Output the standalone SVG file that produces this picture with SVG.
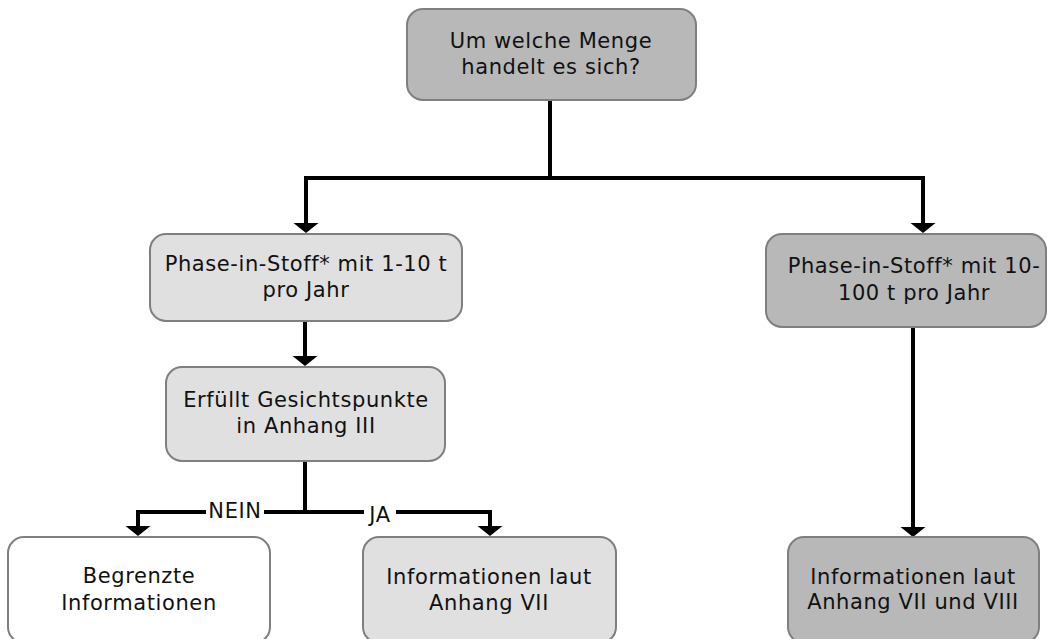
<svg xmlns="http://www.w3.org/2000/svg" width="1048" height="639" viewBox="0 0 1048 639">
  <defs>
    <marker id="arrow" markerUnits="userSpaceOnUse" viewBox="0 -13 10 26" markerWidth="10" markerHeight="26" refX="0" refY="0" orient="auto">
      <path d="M0,-12.5 L10,0 L0,12.5 Z" fill="#000"/>
    </marker>
    <style>
      .box { stroke: #7f7f7f; stroke-width: 2; }
      .dark { fill: #b8b8b8; }
      .light { fill: #e0e0e0; }
      .white { fill: #ffffff; }
      .label { font-family: "DejaVu Sans", Verdana, sans-serif; font-size: 21px; letter-spacing: 0.6px; fill: #111; text-anchor: middle; }
      .wire { fill: none; stroke: #000; stroke-width: 4; stroke-linejoin: miter; }
      .tag-bg { fill: #ffffff; }
    </style>
  </defs>
  <rect width="1048" height="639" fill="#ffffff"/>

  <!-- connectors -->
  <g id="connectors">
    <path class="wire" d="M550,100 V178"/>
    <path class="wire" d="M552,178 H306 V223" marker-end="url(#arrow)"/>
    <path class="wire" d="M548,178 H923 V223" marker-end="url(#arrow)"/>
    <path class="wire" d="M305,321 V356" marker-end="url(#arrow)"/>
    <path class="wire" d="M305,461 V512"/>
    <path class="wire" d="M307,512 H138 V526" marker-end="url(#arrow)"/>
    <path class="wire" d="M303,512 H490 V526" marker-end="url(#arrow)"/>
    <path class="wire" d="M913,327 V527" marker-end="url(#arrow)"/>
    <rect class="tag-bg" x="206" y="502" width="58" height="20"/>
    <text class="label" x="235" y="518">NEIN</text>
    <rect class="tag-bg" x="364" y="506" width="32" height="20"/>
    <text class="label" x="380" y="522">JA</text>
  </g>

  <g id="menge">
    <rect class="box dark" x="407" y="9" width="289" height="91" rx="16"/>
    <text class="label" x="551" y="48">Um welche Menge</text>
    <text class="label" x="551" y="74">handelt es sich?</text>
  </g>

  <g id="phase-1-10">
    <rect class="box light" x="150" y="234" width="312" height="87" rx="16"/>
    <text class="label" x="306" y="271">Phase-in-Stoff* mit 1-10 t</text>
    <text class="label" x="306" y="297">pro Jahr</text>
  </g>

  <g id="phase-10-100">
    <rect class="box dark" x="766" y="234" width="280" height="93" rx="16"/>
    <text class="label" x="914" y="273">Phase-in-Stoff* mit 10-</text>
    <text class="label" x="914" y="300">100 t pro Jahr</text>
  </g>

  <g id="anhang-iii">
    <rect class="box light" x="166" y="367" width="279" height="94" rx="16"/>
    <text class="label" x="306" y="407">Erfüllt Gesichtspunkte</text>
    <text class="label" x="306" y="433">in Anhang III</text>
  </g>

  <g id="begrenzt">
    <rect class="box white" x="8" y="537" width="262" height="106" rx="16"/>
    <text class="label" x="139" y="583">Begrenzte</text>
    <text class="label" x="139" y="610">Informationen</text>
  </g>

  <g id="anhang-vii">
    <rect class="box light" x="363" y="537" width="253" height="106" rx="16"/>
    <text class="label" x="489" y="584">Informationen laut</text>
    <text class="label" x="489" y="610">Anhang VII</text>
  </g>

  <g id="anhang-vii-viii">
    <rect class="box dark" x="788" y="537" width="251" height="106" rx="16"/>
    <text class="label" x="913" y="584">Informationen laut</text>
    <text class="label" x="913" y="609">Anhang VII und VIII</text>
  </g>
</svg>
